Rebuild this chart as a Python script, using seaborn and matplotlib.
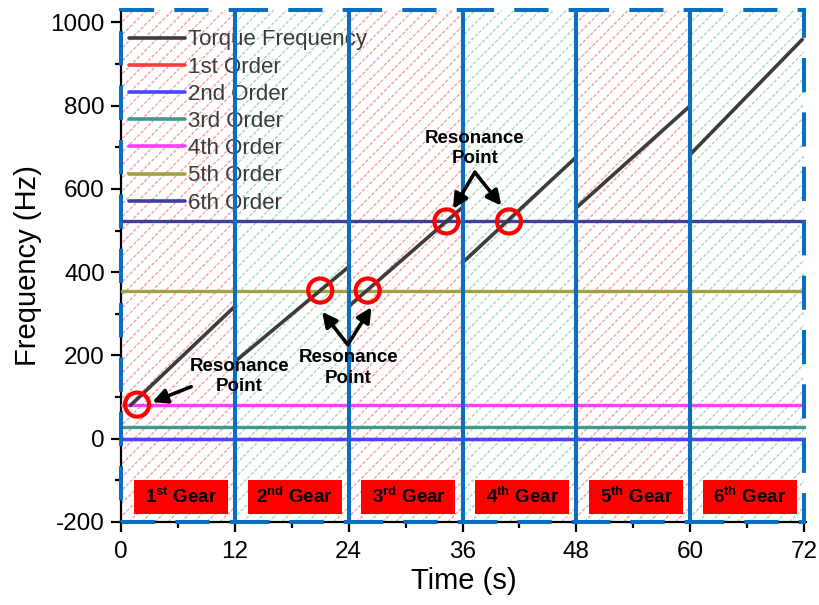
import numpy as np
import matplotlib
matplotlib.use("Agg")
import matplotlib.pyplot as plt
from matplotlib.patches import Rectangle
from matplotlib.lines import Line2D
from matplotlib.collections import LineCollection
import seaborn as sns

# ---- data -------------------------------------------------------------
gear_labels = [r"$\mathbf{1^{st}}$ Gear", r"$\mathbf{2^{nd}}$ Gear", r"$\mathbf{3^{rd}}$ Gear",
               r"$\mathbf{4^{th}}$ Gear", r"$\mathbf{5^{th}}$ Gear", r"$\mathbf{6^{th}}$ Gear"]
shift_times = [0, 12, 24, 36, 48, 60, 72]

# torque frequency ramp within each gear
seg_t_start = [1.0, 12, 24, 36, 48, 60]
seg_t_end = [12, 24, 36, 48, 60, 71.8]
seg_f_start = [80, 185, 318, 423, 555, 683]
seg_f_end = [318, 413, 556, 677, 800, 959]

order_labels = ["1st Order", "2nd Order", "3rd Order", "4th Order", "5th Order", "6th Order"]
order_freqs = [0, 0, 29, 82, 356, 522]
order_colors = ["#ff3b3b", "#4646ff", "#3d9a8f", "#ff3dff", "#a3a040", "#40409a"]

res_t = [1.7, 21.0, 26.0, 34.3, 40.9]
res_f = [82, 356, 356, 522, 522]

x_ticks = [0, 12, 24, 36, 48, 60, 72]
y_ticks = [-200, 0, 200, 400, 600, 800, 1000]

# ---- style -----------------------------------------------------------
sns.set_style("ticks")
plt.rcParams["font.family"] = ["Liberation Sans", "DejaVu Sans"]
plt.rcParams["mathtext.fontset"] = "custom"
plt.rcParams["mathtext.rm"] = "Liberation Sans"
plt.rcParams["mathtext.bf"] = "Liberation Sans:bold"
plt.rcParams["axes.unicode_minus"] = False

BLUE = "#0a6fc2"
TORQUE = "#3c3c3c"

W_IN, H_IN, DPI = 8.19, 6.05, 100
AX_RECT = [0.1477, 0.1372, 0.8364, 0.8463]
XMAX = 72.2
YMIN, YMAX = -200, 1030

fig = plt.figure(figsize=(W_IN, H_IN), dpi=DPI)
ax = fig.add_axes(AX_RECT)
ax.set_xlim(0, XMAX)
ax.set_ylim(YMIN, YMAX)

# pixel scale of the axes, used to lay the hatch at 45 degrees
px_per_x = AX_RECT[2] * W_IN * DPI / XMAX
px_per_y = AX_RECT[3] * H_IN * DPI / (YMAX - YMIN)
hatch_slope = px_per_x / px_per_y
hatch_step = 13.0 / px_per_x
hatch_run = (YMAX - YMIN) / hatch_slope

# hatched gear regions with dashed borders
for i in range(6):
    x0, x1 = shift_times[i], shift_times[i + 1]
    hc = "#f6a0a0" if i % 2 == 0 else "#9fdeb5"
    clip = Rectangle((x0, YMIN), x1 - x0, YMAX - YMIN, facecolor="none",
                     edgecolor="none", transform=ax.transData)
    starts = np.arange(x0 - hatch_run, x1 + hatch_step, hatch_step)
    segs = [[(s, YMIN), (s + hatch_run, YMAX)] for s in starts]
    lc = LineCollection(segs, colors=hc, linewidths=1.0,
                        linestyles=[(0, (2.5, 1.2))], zorder=0)
    ax.add_collection(lc)
    lc.set_clip_path(clip)
    ax.add_patch(Rectangle((x0, YMIN), x1 - x0, YMAX - YMIN, facecolor="none",
                           edgecolor=BLUE, lw=2.9, linestyle=(0, (8.5, 5)),
                           zorder=6, clip_on=False))

# order lines
for lab, f, c in zip(order_labels, order_freqs, order_colors):
    sns.lineplot(x=[0, XMAX], y=[f, f], ax=ax, color=c, lw=2.4, zorder=3, legend=False)

# torque frequency
for t0, t1, f0, f1 in zip(seg_t_start, seg_t_end, seg_f_start, seg_f_end):
    sns.lineplot(x=[t0, t1], y=[f0, f1], ax=ax, color=TORQUE, lw=2.6, zorder=4, legend=False)

# gear shift lines
for t in shift_times[1:-1]:
    ax.axvline(t, color=BLUE, lw=2.9, zorder=7)

# resonance circles
ax.scatter(res_t, res_f, s=300, facecolors="none", edgecolors="#ff0000",
           linewidths=3.0, zorder=9)

# annotations
arrow = dict(arrowstyle="-|>", color="black", lw=2.6, mutation_scale=22,
             shrinkA=0, shrinkB=0)
txt = dict(ha="center", va="center", fontsize=13.5, fontweight="bold",
           linespacing=1.25, color="black", zorder=10)
ax.annotate("", xy=(3.3, 88), xytext=(7.4, 125), arrowprops=arrow, zorder=10)
ax.text(12.5, 150, "Resonance\nPoint", **txt)
ax.annotate("", xy=(21.2, 305), xytext=(23.9, 226), arrowprops=arrow, zorder=10)
ax.annotate("", xy=(26.4, 316), xytext=(23.9, 226), arrowprops=arrow, zorder=10)
ax.text(24.0, 170, "Resonance\nPoint", **txt)
ax.annotate("", xy=(35.0, 552), xytext=(37.3, 640), arrowprops=arrow, zorder=10)
ax.annotate("", xy=(40.1, 560), xytext=(37.3, 640), arrowprops=arrow, zorder=10)
ax.text(37.3, 698, "Resonance\nPoint", **txt)

# gear label boxes
for i, lab in enumerate(gear_labels):
    cx = shift_times[i] + 6.3
    ax.add_patch(Rectangle((cx - 4.95, -180), 9.9, 80, facecolor="#ff0000",
                           edgecolor="none", zorder=8))
    ax.text(cx, -139, lab, ha="center", va="center", fontsize=13.5,
            fontweight="bold", color="black", zorder=9)

# legend
handles = [Line2D([], [], color=TORQUE, lw=2.6)] + \
          [Line2D([], [], color=c, lw=2.6) for c in order_colors]
labels = ["Torque Frequency"] + order_labels
leg = ax.legend(handles, labels, loc="upper left", bbox_to_anchor=(0.004, 0.973),
                borderaxespad=0, fontsize=16, frameon=True, fancybox=False,
                framealpha=0, edgecolor="#8a8a8a", handlelength=2.5,
                handletextpad=0.15, labelspacing=0.28, borderpad=0.25)
leg.get_frame().set_linewidth(1.0)
leg.set_zorder(5)
for t in leg.get_texts():
    t.set_color("#3a3a3a")

# axes
ax.set_xticks(x_ticks)
ax.set_xticks([6, 18, 30, 42, 54, 66], minor=True)
ax.set_yticks(y_ticks)
ax.set_yticks([-100, 100, 300, 500, 700, 900], minor=True)
ax.tick_params(which="major", direction="out", length=7.5, width=1.6, labelsize=17.5,
               colors="black")
ax.tick_params(axis="x", which="major", pad=6)
ax.tick_params(axis="y", which="major", pad=4)
ax.tick_params(which="minor", direction="out", length=4, width=1.6, colors="black")
for s in ["top", "right"]:
    ax.spines[s].set_visible(False)
for s in ["left", "bottom"]:
    ax.spines[s].set_linewidth(1.6)
    ax.spines[s].set_color("black")
ax.set_xlabel("Time (s)", fontsize=21, labelpad=3, color="black")
ax.set_ylabel("Frequency (Hz)", fontsize=21, labelpad=6, color="black")

fig.savefig("out.png", dpi=DPI)
